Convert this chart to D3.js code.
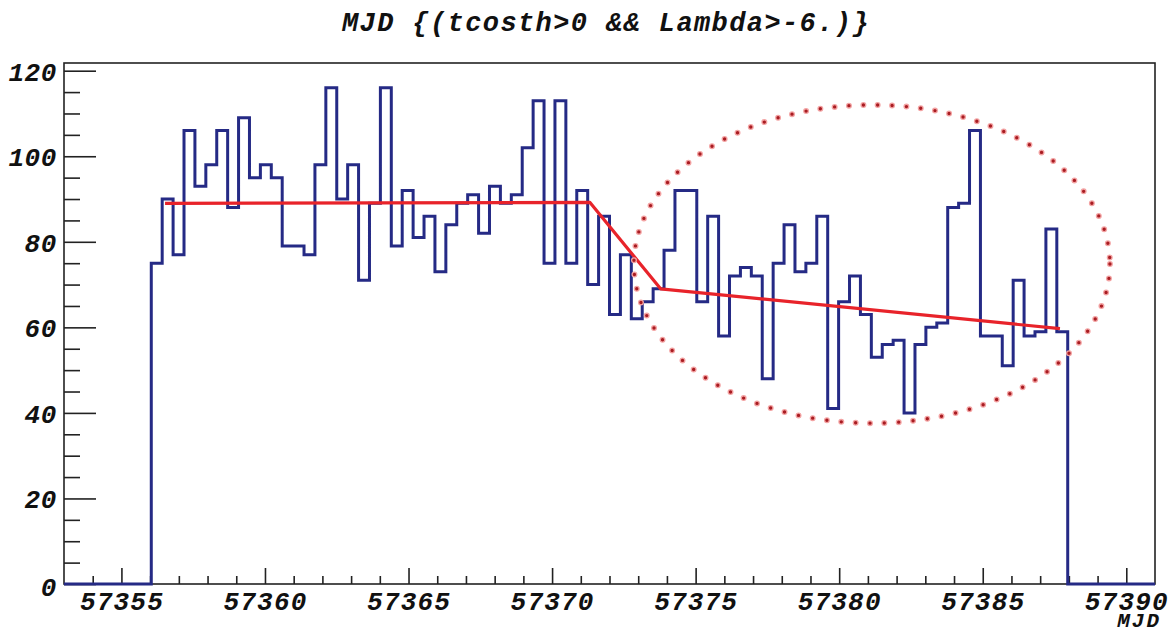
<!DOCTYPE html>
<html>
<head>
<meta charset="utf-8">
<script src="https://cdn.jsdelivr.net/npm/d3@7"></script>
<style>
  html, body { margin: 0; padding: 0; background: #ffffff; }
  svg { display: block; }
  .lbl { font-family: "Liberation Mono", "DejaVu Sans Mono", monospace; font-weight: bold; font-style: italic; fill: #111; }
</style>
</head>
<body>
<svg id="chart" width="1174" height="633"></svg>
<script>
// ---------------- data ----------------
const titleText = "MJD {(tcosth>0 && Lambda>-6.)}";
const xAxisTitle = "MJD";
const histRange = [57353, 57391];       // histogram x range (100 bins)
const nBins = 100;
const firstFilledBin = 8;
// entries per bin, starting at bin index 8 (all other bins are 0)
const counts = [
  75, 90, 77, 106, 93, 98, 106, 88, 109, 95,
  98, 95, 79, 79, 77, 98, 116, 90, 98, 71,
  89, 116, 79, 92, 81, 86, 73, 84, 89, 91,
  82, 93, 89, 91, 102, 113, 75, 113, 75, 92,
  70, 86, 63, 77, 62, 66, 69, 78, 92, 92,
  66, 86, 58, 72, 74, 72, 48, 75, 84, 73,
  75, 86, 41, 66, 72, 63, 53, 56, 57, 40,
  56, 60, 61, 88, 89, 106, 58, 58, 51, 71,
  58, 59, 83, 59
];
// piecewise linear fit (red)
const fitX = [57356.52, 57371.32, 57373.78, 57387.69];
const fitY = [89.0, 89.2, 69.0, 59.7];
// dotted ellipse: center (MJD, entries) and radii (days, entries)
const ellipseCenter = [57381.14, 74.8];
const ellipseRadii = [8.29, 37.2];
const yMax = 121.8;
const xMajorTicks = [57355, 57360, 57365, 57370, 57375, 57380, 57385, 57390];
const yMajorTicks = [0, 20, 40, 60, 80, 100, 120];

// ---------------- layout ----------------
const frame = { left: 64, right: 1155, top: 63, bottom: 584 };
const svg = d3.select("#chart");

const x = d3.scaleLinear().domain(histRange).range([frame.left, frame.right]);
const y = d3.scaleLinear().domain([0, yMax]).range([frame.bottom, frame.top]);

// full bins array
const binW = (histRange[1] - histRange[0]) / nBins;
const bins = d3.range(nBins).map(i => {
  const j = i - firstFilledBin;
  return { x0: histRange[0] + i * binW, x1: histRange[0] + (i + 1) * binW,
           v: (j >= 0 && j < counts.length) ? counts[j] : 0 };
});

// frame
svg.append("rect")
  .attr("x", frame.left).attr("y", frame.top)
  .attr("width", frame.right - frame.left).attr("height", frame.bottom - frame.top)
  .attr("fill", "none").attr("stroke", "#222").attr("stroke-width", 1.6);

// axes: minor ticks
const yMinor = d3.range(0, 121, 5).filter(v => v % 20 !== 0);
svg.append("g").attr("transform", `translate(${frame.left},0)`)
  .call(d3.axisLeft(y).tickValues(yMinor).tickSize(-16).tickFormat(""))
  .call(g => g.select(".domain").remove())
  .call(g => g.selectAll("line").attr("stroke", "#222").attr("stroke-width", 1.6));

const xMinor = d3.range(57354, 57391, 1).filter(v => v % 5 !== 0);
svg.append("g").attr("transform", `translate(0,${frame.bottom})`)
  .call(d3.axisBottom(x).tickValues(xMinor).tickSize(-8).tickFormat(""))
  .call(g => g.select(".domain").remove())
  .call(g => g.selectAll("line").attr("stroke", "#222").attr("stroke-width", 1.6));

// major ticks with labels
const yAx = svg.append("g").attr("transform", `translate(${frame.left},0)`)
  .call(d3.axisLeft(y).tickValues(yMajorTicks).tickSize(-32).tickPadding(7).tickFormat(d3.format("d")));
yAx.select(".domain").remove();
yAx.selectAll("line").attr("stroke", "#222").attr("stroke-width", 1.6);
yAx.selectAll("text").attr("class", "lbl").attr("font-size", 26).attr("letter-spacing", 0.6)
  .attr("dy", d => d === 0 ? "0.45em" : "0.36em");

const xAx = svg.append("g").attr("transform", `translate(0,${frame.bottom})`)
  .call(d3.axisBottom(x).tickValues(xMajorTicks).tickSize(-16).tickPadding(8).tickFormat(d3.format("d")));
xAx.select(".domain").remove();
xAx.selectAll("line").attr("stroke", "#222").attr("stroke-width", 1.6);
xAx.selectAll("text").attr("class", "lbl").attr("font-size", 26).attr("letter-spacing", 1.2);

// histogram step outline
let pts = [];
bins.forEach(b => { pts.push([x(b.x0), y(b.v)]); pts.push([x(b.x1), y(b.v)]); });
svg.append("path")
  .attr("d", d3.line()(pts))
  .attr("fill", "none").attr("stroke", "#252a85").attr("stroke-width", 3)
  .attr("stroke-linejoin", "miter");

// fit line
svg.append("path")
  .attr("d", d3.line()(fitX.map((d, i) => [x(d), y(fitY[i])])))
  .attr("fill", "none").attr("stroke", "#e8232a").attr("stroke-width", 3.2)
  .attr("stroke-linejoin", "round");

// dotted ellipse
const cx = x(ellipseCenter[0]), cy = y(ellipseCenter[1]);
const rx = x(ellipseCenter[0] + ellipseRadii[0]) - cx;
const ry = cy - y(ellipseCenter[1] + ellipseRadii[1]);
[["#f3a3a3", 6], ["#a81c22", 3.4]].forEach(([c, w]) => {
  svg.append("ellipse")
    .attr("cx", cx).attr("cy", cy).attr("rx", rx).attr("ry", ry)
    .attr("fill", "none").attr("stroke", c).attr("stroke-width", w)
    .attr("stroke-linecap", "round").attr("stroke-dasharray", "0 14.4");
});

// titles
svg.append("text").attr("class", "lbl")
  .attr("x", 606).attr("y", 31).attr("text-anchor", "middle")
  .attr("font-size", 27).attr("letter-spacing", 1.4)
  .text(titleText);

svg.append("text").attr("class", "lbl")
  .attr("x", frame.right + 6).attr("y", 627).attr("text-anchor", "end")
  .attr("font-size", 21).attr("letter-spacing", 2)
  .text(xAxisTitle);
</script>
</body>
</html>
